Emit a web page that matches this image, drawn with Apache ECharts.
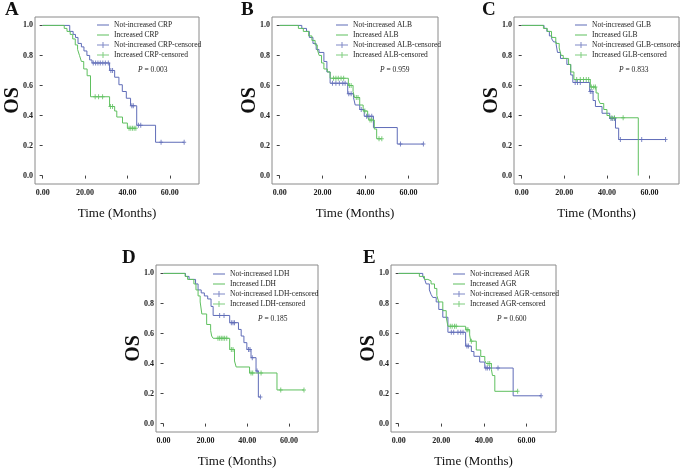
<!DOCTYPE html>
<html>
<head>
<meta charset="utf-8">
<script src="https://cdn.jsdelivr.net/npm/echarts@6/dist/echarts.min.js"></script>
<style>
html,body{margin:0;padding:0;background:#fff;}
#chart{width:680px;height:469px;}
</style>
</head>
<body>
<div id="chart"></div>
<script>
// ---------------- DATA ----------------
const xTicks = [0, 20, 40, 60];
const yTicks = [0, 0.2, 0.4, 0.6, 0.8, 1.0];
const panelLetters = ['A', 'B', 'C', 'D', 'E'];
const markers = ['CRP', 'ALB', 'GLB', 'LDH', 'AGR'];
const pValues = ['0.003', '0.959', '0.833', '0.185', '0.600'];

// Kaplan-Meier steps [time, survival] and censor times
const crpNot = [[0,1],[12.8,0.96],[14.4,0.94],[15.5,0.92],[16.7,0.88],[18.3,0.857],[19.5,0.83],[20.9,0.80],[22.2,0.77],[23.3,0.75],[31.6,0.70],[34,0.655],[36,0.605],[37.6,0.56],[39.5,0.515],[41.5,0.465],[44.4,0.335],[53.3,0.222],[66.8,0.222]];
const crpNotCens = [23.9,25,26.1,27.2,28.4,29.6,31,32.2,33,42.1,42.8,45.2,46.3,55.9,66.8];
const crpInc = [[0,1],[10.2,0.98],[11.5,0.96],[13,0.94],[14.2,0.91],[15.4,0.87],[16.5,0.84],[17.4,0.80],[18.3,0.76],[19.4,0.71],[21,0.665],[22.6,0.525],[31.6,0.46],[34,0.43],[35,0.39],[37.7,0.35],[40,0.315],[44,0.315]];
const crpIncCens = [24.8,26.4,28.3,32,33,40.8,41.6,42.4,43.2,44];

const albNot = [[0,1],[10.3,0.98],[12.5,0.96],[13.8,0.92],[15.5,0.88],[17,0.84],[18.3,0.82],[20.6,0.76],[22,0.69],[23.5,0.615],[31.7,0.545],[34.4,0.52],[35.2,0.47],[37.3,0.44],[39.4,0.395],[43.7,0.32],[54.8,0.21],[67,0.21]];
const albNotCens = [24.6,26.2,27.8,29.4,30.5,32.2,33.3,38,40.5,41.6,42.9,56.3,67];
const albInc = [[0,1],[8.7,0.98],[11,0.96],[13.5,0.93],[15,0.90],[16.5,0.87],[17.5,0.84],[18.4,0.80],[19.5,0.75],[20.6,0.71],[22.2,0.69],[23.5,0.648],[32,0.60],[34.2,0.56],[34.9,0.52],[37.3,0.47],[38.9,0.43],[41,0.39],[41.6,0.37],[44.1,0.31],[45.2,0.245],[47.6,0.245]];
const albIncCens = [25.1,26.2,27.3,28.6,29.8,32.5,33.3,35.7,36.5,39.7,42.1,42.9,46.3,47.6];

const glbNot = [[0,1],[10.5,0.98],[11.8,0.96],[13,0.93],[14.1,0.91],[15,0.89],[16.2,0.87],[16.8,0.82],[18.2,0.78],[21.2,0.74],[23,0.67],[24,0.62],[31.9,0.56],[33.5,0.50],[34.6,0.46],[37.7,0.415],[41.3,0.38],[44,0.316],[45.5,0.24],[67.5,0.24]];
const glbNotCens = [25.1,26.2,27.5,32.2,33,41.9,42.7,43.5,46.3,56.3,67.5];
const glbInc = [[0,1],[10.2,0.98],[12,0.96],[14,0.92],[16,0.88],[17.6,0.85],[18.5,0.80],[19.5,0.78],[22,0.74],[23,0.69],[24.5,0.64],[32.2,0.59],[34.9,0.55],[35.9,0.51],[36.8,0.48],[38.5,0.44],[40,0.40],[41.3,0.385],[54.7,0]];
const glbIncCens = [25.8,27.5,29,30.3,31.4,32.7,33.8,34.6,42.3,43.5,47.6];

const ldhNot = [[0,1],[10.5,0.98],[12.2,0.96],[15.3,0.93],[16.5,0.89],[18,0.87],[19.5,0.85],[21.1,0.83],[22.7,0.78],[23.7,0.72],[31.6,0.672],[35.8,0.627],[37.1,0.583],[38.4,0.539],[39.8,0.494],[41.8,0.439],[44.2,0.35],[45.3,0.177],[46.3,0.177]];
const ldhNotCens = [26.8,28.9,32.4,33.2,33.9,40.6,41.3,42.4,44.7,46.3];
const ldhInc = [[0,1],[10.3,0.98],[11.5,0.96],[14.5,0.93],[15.5,0.89],[16.5,0.85],[17.5,0.81],[18.3,0.73],[20.6,0.66],[22.5,0.62],[23,0.583],[23.7,0.568],[31.6,0.494],[33.9,0.417],[34.7,0.377],[41.1,0.337],[54.2,0.224],[67.1,0.224]];
const ldhIncCens = [26,26.8,27.6,28.4,29.2,30.2,32.4,33.2,41.8,42.6,46.6,56,67.1];

const agrNot = [[0,1],[11.3,0.98],[12.2,0.96],[12.9,0.93],[14.4,0.89],[15.2,0.86],[16,0.84],[17.6,0.81],[18.8,0.76],[20.7,0.708],[23.1,0.608],[31.4,0.516],[34.1,0.48],[35.3,0.448],[38,0.41],[40.4,0.37],[53.7,0.185],[66.8,0.185]];
const agrNotCens = [24.7,25.8,27.8,29.1,30.2,32,32.7,40.9,41.6,42.6,46.6,66.8];
const agrInc = [[0,1],[9.7,0.98],[12.1,0.96],[13.7,0.95],[15.2,0.93],[16.8,0.90],[17.9,0.852],[18.8,0.81],[20.7,0.752],[22.3,0.708],[23.1,0.648],[31.4,0.625],[33.3,0.59],[33.8,0.549],[36.4,0.49],[38.5,0.447],[40.4,0.42],[41.1,0.40],[43.5,0.36],[44,0.32],[45.1,0.215],[55.8,0.215]];
const agrIncCens = [24.2,25.1,26.2,27,32,32.5,34.1,41.9,42.7,55.8];

const notSteps = [crpNot, albNot, glbNot, ldhNot, agrNot];
const notCens = [crpNotCens, albNotCens, glbNotCens, ldhNotCens, agrNotCens];
const incSteps = [crpInc, albInc, glbInc, ldhInc, agrInc];
const incCens = [crpIncCens, albIncCens, glbIncCens, ldhIncCens, agrIncCens];

// ---------------- LAYOUT / STYLE ----------------
const grids = [
  {left: 35, top: 17, width: 164, height: 167},
  {left: 272, top: 17, width: 166, height: 167},
  {left: 514, top: 17, width: 165, height: 167},
  {left: 156, top: 265, width: 162, height: 168},
  {left: 391, top: 265, width: 165, height: 167}
];
const legendPos = [[97, 21], [336, 21], [575, 21], [213, 270], [453, 270]];
const letterPos = [[5, 1], [241, 1], [482, 1], [122, 249], [363, 249]];
const pPos = [[138, 66], [380, 66], [619, 66], [258, 315], [497, 315]];

const BLUE = '#5f6cb8';
const GREEN = '#5fc05f';
const FONT = 'Liberation Serif';
const PLUS = 'path://M1.5,0H2.5V2H4V3H2.5V5H1.5V3H0V2H1.5Z';
const LINE_ICON = 'path://M0,0H0.01V0.01H0Z M0,6.99H0.01V7H0Z M0,3H12V4H0Z';
const CENS_ICON = 'path://M0,3H5.5V0.5H6.5V3H12V4H6.5V6.5H5.5V4H0Z M0,0H0.01V0.01H0Z M0,6.99H0.01V7H0Z';

function levelAt(steps, t) {
  let v = steps[0][1];
  for (const [x, y] of steps) if (x <= t) v = y;
  return v;
}

const option = {
  animation: false,
  backgroundColor: '#fff',
  grid: [], xAxis: [], yAxis: [], series: [], legend: [], title: []
};

for (let i = 0; i < 5; i++) {
  const g = grids[i];
  const m = markers[i];
  option.grid.push(Object.assign({show: true, borderColor: '#8a8a8a', borderWidth: 1, containLabel: false}, g));
  option.xAxis.push({
    gridIndex: i, type: 'value', min: -3.6, max: 73.8,
    splitLine: {show: false},
    axisLine: {show: false},
    axisTick: {show: true, customValues: xTicks, length: 3, lineStyle: {color: '#444'}},
    axisLabel: {customValues: xTicks, formatter: v => v.toFixed(2), fontSize: 8, fontWeight: 'bold', fontFamily: FONT, color: '#222', margin: 5},
    name: 'Time (Months)', nameLocation: 'middle', nameGap: 23, nameMoveOverlap: false,
    nameTextStyle: {fontSize: 13, fontFamily: FONT, color: '#111'}
  });
  option.yAxis.push({
    gridIndex: i, type: 'value', min: -0.056, max: 1.056,
    splitLine: {show: false},
    axisLine: {show: false},
    axisTick: {show: true, customValues: yTicks, length: 3, lineStyle: {color: '#444'}},
    axisLabel: {customValues: yTicks, formatter: v => v.toFixed(1), fontSize: 8, fontWeight: 'bold', fontFamily: FONT, color: '#222', margin: 2},
    name: 'OS', nameLocation: 'middle', nameGap: 12, nameMoveOverlap: false,
    nameTextStyle: {fontSize: 20, fontWeight: 'bold', fontFamily: FONT, color: '#111'}
  });
  const nNot = 'Not-increased ' + m, nInc = 'Increased ' + m;
  option.series.push({
    type: 'line', name: nNot, xAxisIndex: i, yAxisIndex: i, data: notSteps[i], step: 'end',
    symbol: 'none', lineStyle: {color: BLUE, width: 1}, itemStyle: {color: BLUE}, z: 3
  });
  option.series.push({
    type: 'line', name: nInc, xAxisIndex: i, yAxisIndex: i, data: incSteps[i], step: 'end',
    symbol: 'none', lineStyle: {color: GREEN, width: 1}, itemStyle: {color: GREEN}, z: 3
  });
  option.series.push({
    type: 'scatter', name: nNot + '-censored', xAxisIndex: i, yAxisIndex: i,
    data: notCens[i].map(t => [t, levelAt(notSteps[i], t)]),
    symbol: PLUS, symbolSize: [4, 5], itemStyle: {color: BLUE}, z: 4
  });
  option.series.push({
    type: 'scatter', name: nInc + '-censored', xAxisIndex: i, yAxisIndex: i,
    data: incCens[i].map(t => [t, levelAt(incSteps[i], t)]),
    symbol: PLUS, symbolSize: [4, 5], itemStyle: {color: GREEN}, z: 4
  });
  option.legend.push({
    left: legendPos[i][0], top: legendPos[i][1], orient: 'vertical', padding: 0,
    itemWidth: 12, itemHeight: 7, itemGap: 2, selectedMode: false,
    textStyle: {fontSize: 7.5, fontFamily: FONT, color: '#222'},
    data: [
      {name: nNot, icon: LINE_ICON, itemStyle: {color: BLUE}},
      {name: nInc, icon: LINE_ICON, itemStyle: {color: GREEN}},
      {name: nNot + '-censored', icon: CENS_ICON, itemStyle: {color: BLUE}},
      {name: nInc + '-censored', icon: CENS_ICON, itemStyle: {color: GREEN}}
    ]
  });
  option.title.push({
    text: panelLetters[i], left: letterPos[i][0], top: letterPos[i][1], padding: 0,
    textStyle: {fontSize: 19, fontWeight: 'bold', fontFamily: FONT, color: '#111'}
  });
  option.title.push({
    text: '{i|P} = ' + pValues[i], left: pPos[i][0], top: pPos[i][1], padding: 0,
    textStyle: {fontSize: 7.5, fontWeight: 'normal', fontFamily: FONT, color: '#222',
      rich: {i: {fontStyle: 'italic', fontWeight: 'normal', fontSize: 7.5, fontFamily: FONT, color: '#222'}}}
  });
}

const chart = echarts.init(document.getElementById('chart'), null, {renderer: 'canvas'});
chart.setOption(option);
</script>
</body>
</html>
